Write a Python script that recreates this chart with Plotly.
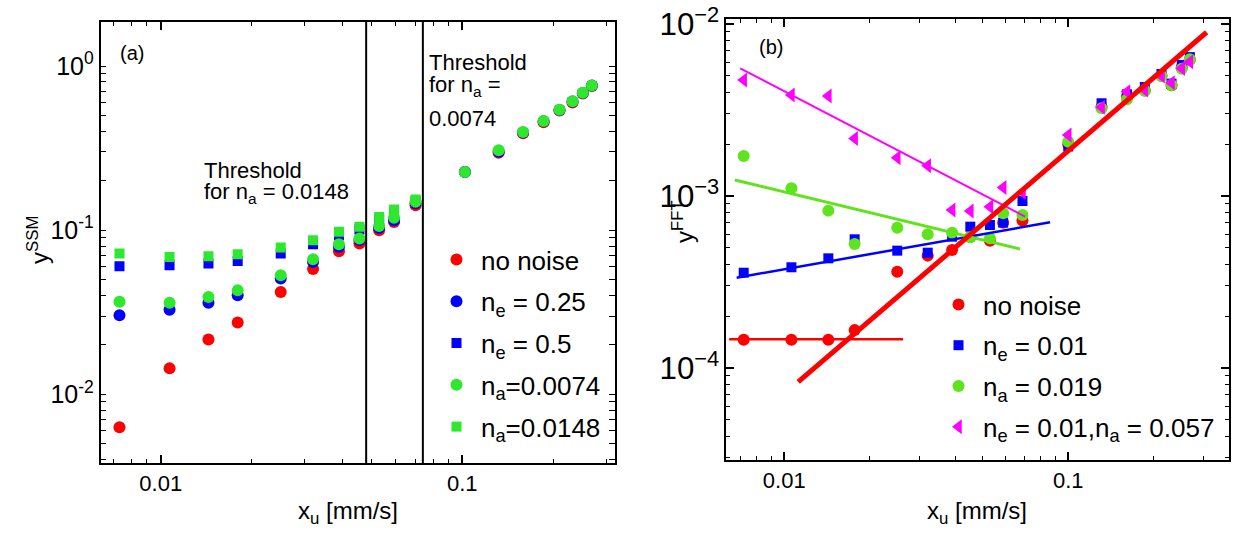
import plotly.graph_objects as go

# ---------------- data: panel (a) ----------------
x_ssm = [0.0073, 0.0107, 0.0144, 0.018, 0.025, 0.032, 0.039, 0.0456, 0.053, 0.0594,
         0.07, 0.102, 0.132, 0.159, 0.186, 0.21, 0.232, 0.251, 0.269]
ssm_no_noise = [0.0063, 0.0144, 0.0216, 0.0274, 0.042, 0.058, 0.0745, 0.083, 0.100, 0.112,
                0.142, 0.226, 0.296, 0.39, 0.455, 0.535, 0.6, 0.68, 0.755]
ssm_ne_025 = [0.0303, 0.0328, 0.0362, 0.0402, 0.0507, 0.0641, 0.079, 0.087, 0.103, 0.115,
              0.146, 0.226, 0.30, 0.393, 0.46, 0.54, 0.607, 0.685, 0.76]
ssm_ne_05 = [0.0603, 0.0612, 0.0626, 0.065, 0.0721, 0.0822, 0.093, 0.101, 0.116, 0.129, 0.15]
ssm_na_0074 = [0.0366, 0.0362, 0.0392, 0.043, 0.0532, 0.0665, 0.0822, 0.089, 0.106, 0.119,
               0.149, 0.2265, 0.307, 0.396, 0.463, 0.542, 0.61, 0.688, 0.762]
ssm_na_0148 = [0.0721, 0.0687, 0.0694, 0.0714, 0.0784, 0.0869, 0.0977, 0.105, 0.1205, 0.1336, 0.154]
thresholds = [0.048, 0.074]

# ---------------- data: panel (b) ----------------
x_fft = [0.0072, 0.0106, 0.0143, 0.0177, 0.025, 0.032, 0.039, 0.0452, 0.053, 0.059,
         0.069, 0.1, 0.131, 0.161, 0.186, 0.213, 0.231, 0.251, 0.268]
fft_no_noise = [1.46e-4, 1.46e-4, 1.46e-4, 1.66e-4, 3.63e-4, 4.5e-4, 4.85e-4, 5.77e-4, 5.5e-4, 7.0e-4,
                7.2e-4, 2.0e-3, 3.3e-3, 3.8e-3, 4.1e-3, 5.0e-3, 4.4e-3, 5.6e-3, 6.2e-3]
fft_ne_001 = [3.58e-4, 3.85e-4, 4.34e-4, 5.6e-4, 4.81e-4, 4.68e-4, 5.8e-4, 6.63e-4, 6.78e-4, 7.0e-4,
              9.35e-4, 1.94e-3, 3.46e-3, 3.9e-3, 4.3e-3, 5.12e-3, 4.5e-3, 5.78e-3, 6.42e-3]
fft_na_0019 = [1.71e-3, 1.11e-3, 8.22e-4, 5.26e-4, 6.54e-4, 5.99e-4, 6.12e-4, 5.75e-4, 5.68e-4, 7.93e-4,
               7.76e-4, 2.07e-3, 3.24e-3, 3.65e-3, 4.09e-3, 4.99e-3, 4.42e-3, 5.5e-3, 6.24e-3]
fft_both = [4.72e-3, 3.87e-3, 3.81e-3, 2.16e-3, 1.67e-3, 1.5e-3, 8.3e-4, 8.18e-4, 8.67e-4, 1.12e-3,
            1.05e-3, 2.26e-3, 3.28e-3, 4.03e-3, 4.13e-3, 4.99e-3, 4.56e-3, 5.52e-3, 6.04e-3]

fit_red_steep_x = [0.0112, 0.307]
fit_red_steep_y = [8.3e-5, 8.95e-3]
fit_red_flat_x = [0.0064, 0.0262]
fit_red_flat_y = [1.47e-4, 1.47e-4]
fit_blue_x = [0.0068, 0.0863]
fit_blue_y = [3.35e-4, 7.03e-4]
fit_green_x = [0.0067, 0.0676]
fit_green_y = [1.24e-3, 4.92e-4]
fit_mag_x = [0.0070, 0.0705]
fit_mag_y = [5.52e-3, 7.58e-4]

labels_a = ["no noise", "n<sub>e</sub> = 0.25", "n<sub>e</sub> = 0.5",
            "n<sub>a</sub>=0.0074", "n<sub>a</sub>=0.0148"]
labels_b = ["no noise", "n<sub>e</sub> = 0.01", "n<sub>a</sub> = 0.019",
            "n<sub>e</sub> = 0.01,n<sub>a</sub> = 0.057"]

ytick_vals_a = [0.01, 0.1, 1]
ytick_text_a = ["10<sup>-2</sup>", "10<sup>-1</sup>", "10<sup>0</sup>"]

RED = "#ff0000"
BLUE = "#0000ff"
GREEN_A = "#2ee82e"
GREEN_B = "#5fe31c"
MAG = "#ff00ff"
FONT = "Liberation Sans, Arial, sans-serif"

W, H = 1253, 536


def minor_vals(lo_exp, hi_exp):
    return [m * 10 ** e for e in range(lo_exp, hi_exp + 1) for m in range(2, 10)]


fig = go.Figure()

# ---- panel (a) ----
sa = dict(xaxis="x", yaxis="y", mode="markers", legend="legend")
fig.add_trace(go.Scatter(x=x_ssm, y=ssm_no_noise, name=labels_a[0], legendgroup="a0",
                         marker=dict(symbol="circle", size=12, color=RED), **sa))
fig.add_trace(go.Scatter(x=x_ssm, y=ssm_ne_025, name=labels_a[1], legendgroup="a1",
                         marker=dict(symbol="circle", size=12, color=BLUE), **sa))
fig.add_trace(go.Scatter(x=x_ssm[:len(ssm_ne_05)], y=ssm_ne_05, name=labels_a[2], legendgroup="a2",
                         marker=dict(symbol="square", size=10, color=BLUE), **sa))
fig.add_trace(go.Scatter(x=x_ssm, y=ssm_na_0074, name=labels_a[3], legendgroup="a3",
                         marker=dict(symbol="circle", size=12, color=GREEN_A), **sa))
fig.add_trace(go.Scatter(x=x_ssm[:len(ssm_na_0148)], y=ssm_na_0148, name=labels_a[4], legendgroup="a4",
                         marker=dict(symbol="square", size=10, color=GREEN_A), **sa))

# ---- panel (b) ----
sb = dict(xaxis="x2", yaxis="y2", legend="legend2")
fig.add_trace(go.Scatter(x=x_fft, y=fft_no_noise, name=labels_b[0], legendgroup="b0", mode="markers",
                         marker=dict(symbol="circle", size=12, color=RED), **sb))
fig.add_trace(go.Scatter(x=x_fft, y=fft_ne_001, name=labels_b[1], legendgroup="b1", mode="markers",
                         marker=dict(symbol="square", size=10, color=BLUE), **sb))
fig.add_trace(go.Scatter(x=x_fft, y=fft_na_0019, name=labels_b[2], legendgroup="b2", mode="markers",
                         marker=dict(symbol="circle", size=12, color=GREEN_B), **sb))
fig.add_trace(go.Scatter(x=x_fft, y=fft_both, name=labels_b[3], legendgroup="b3", mode="markers",
                         marker=dict(symbol="triangle-left", size=13, color=MAG), **sb))

for fx, fy, col, wd in [(fit_red_flat_x, fit_red_flat_y, RED, 2.5),
                        (fit_blue_x, fit_blue_y, BLUE, 2.5),
                        (fit_green_x, fit_green_y, GREEN_B, 3),
                        (fit_mag_x, fit_mag_y, MAG, 2),
                        (fit_red_steep_x, fit_red_steep_y, RED, 5)]:
    fig.add_trace(go.Scatter(x=fx, y=fy, mode="lines", line=dict(color=col, width=wd),
                             showlegend=False, hoverinfo="skip", **sb))

# threshold lines
for t in thresholds:
    fig.add_shape(type="line", xref="x", yref="y domain", x0=t, x1=t, y0=0, y1=1,
                  line=dict(color="black", width=2))


def px_x(p):
    return p / W


def px_y(p):
    return 1 - p / H


xfont = dict(family=FONT, size=22, color="black")
yfont = dict(family=FONT, size=25, color="black")

# left y axis: major + minor ticks listed, minor ones unlabeled
ya_vals = ytick_vals_a + minor_vals(-3, 0)
ya_text = ytick_text_a + [""] * len(minor_vals(-3, 0))

base = dict(type="log", showline=True, linecolor="black", linewidth=1.5, mirror="ticks",
            ticks="inside", showgrid=False, zeroline=False)
minor_auto = dict(ticks="inside", dtick="D1", ticklen=4, tickwidth=1.2, tickcolor="black")

fig.update_layout(
    width=W, height=H, margin=dict(l=0, r=0, t=0, b=0),
    paper_bgcolor="white", plot_bgcolor="white", font=dict(family=FONT, color="black"),
    xaxis=dict(domain=[px_x(100.5), px_x(614.6)], range=[-2.1996, -0.495], anchor="y",
               dtick=1, ticklen=8, tickwidth=1.5, tickcolor="black", tickfont=xfont,
               minor=minor_auto, automargin="left", **base),
    yaxis=dict(domain=[px_y(463), px_y(22)], range=[-2.418, 0.268], anchor="x",
               tickmode="array", tickvals=ya_vals, ticktext=ya_text,
               ticklen=6, tickwidth=1.3, tickcolor="black", tickfont=yfont,
               automargin="bottom", **base),
    xaxis2=dict(domain=[px_x(726), px_x(1229)], range=[-2.205, -0.434], anchor="y2",
                dtick=1, ticklen=8, tickwidth=1.5, tickcolor="black", tickfont=xfont,
                minor=minor_auto, automargin="left", **base),
    yaxis2=dict(domain=[px_y(460), px_y(19)], range=[-4.535, -1.971], anchor="x2",
                dtick=1, exponentformat="power", ticklen=8, tickwidth=1.5, tickcolor="black",
                tickfont=yfont, minor=minor_auto, automargin="bottom", **base),
    legend=dict(x=px_x(432), y=px_y(236), xanchor="left", yanchor="top", bgcolor="rgba(0,0,0,0)",
                font=dict(family=FONT, size=26, color="black"), tracegroupgap=5, itemwidth=39,
                itemclick=False, itemdoubleclick=False),
    legend2=dict(x=px_x(934), y=px_y(281), xanchor="left", yanchor="top", bgcolor="rgba(0,0,0,0)",
                 font=dict(family=FONT, size=26, color="black"), tracegroupgap=4, itemwidth=39,
                 itemclick=False, itemdoubleclick=False),
)

ann = []


def text(xp, yp, s, size, xanchor="left", yanchor="middle", angle=0):
    ann.append(dict(x=px_x(xp), y=px_y(yp), xref="paper", yref="paper", text=s, showarrow=False,
                    xanchor=xanchor, yanchor=yanchor, textangle=angle,
                    font=dict(family=FONT, size=size, color="black")))


text(118, 53, "(a)", 20)
text(757, 47, "(b)", 20)
text(202, 170, "Threshold", 22)
text(202, 193, "for n<sub>a</sub> = 0.0148", 22)
text(427, 62, "Threshold", 22)
text(427, 86, "for n<sub>a</sub> =", 22)
text(427, 119, "0.0074", 22)
text(348, 512, "x<sub>u</sub> [mm/s]", 24, xanchor="center")
text(977, 512, "x<sub>u</sub> [mm/s]", 24, xanchor="center")
text(38, 240, "y<sup>SSM</sup>", 24, xanchor="center", angle=-90)
text(683, 222, "y<sup>FFT</sup>", 24, xanchor="center", angle=-90)
fig.update_layout(annotations=ann)

fig.write_html("out.html", config={"displayModeBar": False},
               post_script="document.body.style.margin='0px';")
